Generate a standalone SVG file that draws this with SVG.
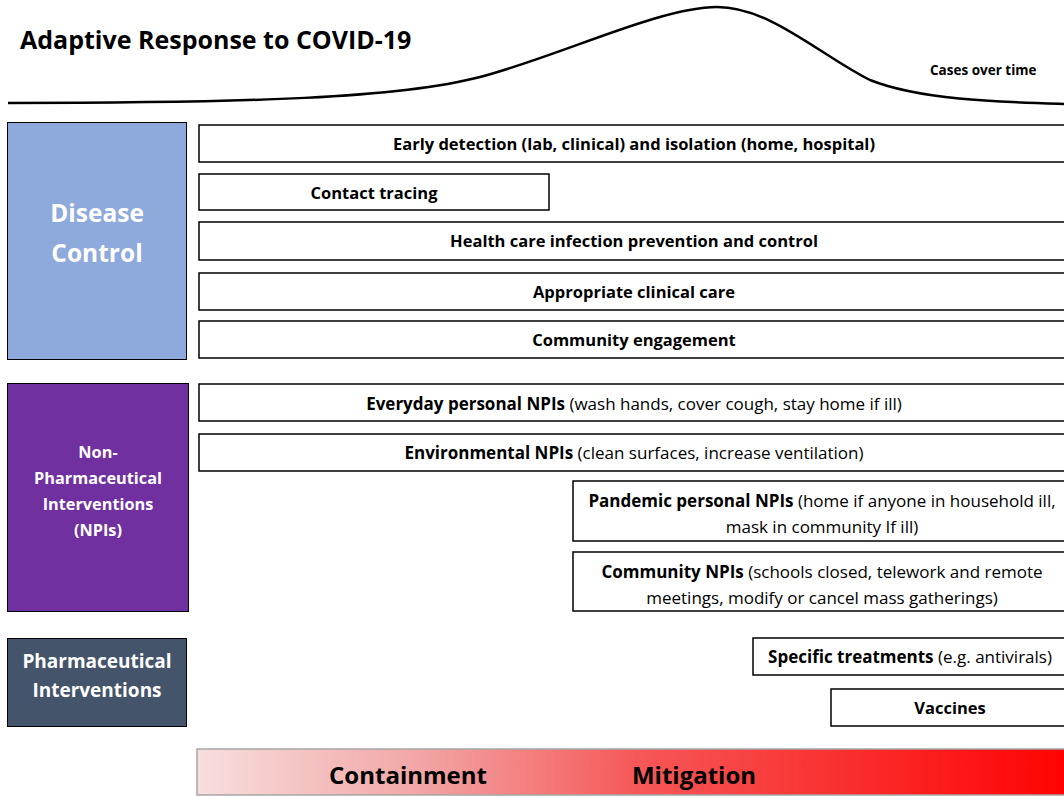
<svg xmlns="http://www.w3.org/2000/svg" width="1064" height="796" viewBox="0 0 1064 796">
<defs>
<style>
text{font-family:"Open Sans","Liberation Sans",sans-serif;}
.box{fill:#fff;stroke:#000;stroke-width:1.5;}
.t{font-size:16.5px;text-anchor:middle;fill:#000;}
.m{font-size:17px;}
.b{font-weight:bold;}
.w{fill:#fff;font-weight:bold;text-anchor:middle;}
</style>
<linearGradient id="grad" x1="0" y1="0" x2="1" y2="0">
<stop offset="0" stop-color="#F8DEDE"/>
<stop offset="0.25" stop-color="#F2A6A6"/>
<stop offset="0.5" stop-color="#F65858"/>
<stop offset="1" stop-color="#FF0000"/>
</linearGradient>
</defs>
<rect width="1064" height="796" fill="#fff"/>
<text x="20" y="49" font-size="25" font-weight="bold">Adaptive Response to COVID-19</text>
<g id="curve">
<path d="M8,103 C250,103 400,98 480,77 C560,56 660,7 717,7 C770,7 820,55 870,80 C920,100 1000,102 1064,104" fill="none" stroke="#000" stroke-width="2.5"/>
<text x="930" y="75" font-size="13.5" font-weight="bold">Cases over time</text>
</g>
<g id="disease-control">
<rect x="7.5" y="122.5" width="179" height="237" fill="#8EA9DB" stroke="#000" stroke-width="1"/>
<text class="w" x="97" y="222" font-size="24.5">Disease</text>
<text class="w" x="97" y="262" font-size="24.5">Control</text>
</g>
<g id="npis">
<rect x="7.5" y="383.5" width="181" height="228" fill="#7030A0" stroke="#000" stroke-width="1"/>
<text class="w" x="98" y="458" font-size="16.3">Non-</text>
<text class="w" x="98" y="484" font-size="16.3">Pharmaceutical</text>
<text class="w" x="98" y="510" font-size="16.3">Interventions</text>
<text class="w" x="98" y="536" font-size="16.3">(NPIs)</text>
</g>
<g id="pharma">
<rect x="7.5" y="638.5" width="179" height="88" fill="#44546A" stroke="#000" stroke-width="1"/>
<text class="w" x="97" y="668" font-size="19">Pharmaceutical</text>
<text class="w" x="97" y="697" font-size="19">Interventions</text>
</g>
<g id="early-detection">
<rect class="box" x="199" y="125" width="875" height="37"/>
<text class="t b" x="634" y="150">Early detection (lab, clinical) and isolation (home, hospital)</text>
</g>
<g id="contact-tracing">
<rect class="box" x="199" y="174" width="350" height="36"/>
<text class="t b" x="374" y="199">Contact tracing</text>
</g>
<g id="health-care">
<rect class="box" x="199" y="222" width="875" height="38"/>
<text class="t b" x="634" y="247">Health care infection prevention and control</text>
</g>
<g id="clinical-care">
<rect class="box" x="199" y="273" width="875" height="37"/>
<text class="t b" x="634" y="298">Appropriate clinical care</text>
</g>
<g id="community-engagement">
<rect class="box" x="199" y="321" width="875" height="37"/>
<text class="t b" x="634" y="346">Community engagement</text>
</g>
<g id="everyday-npis">
<rect class="box" x="199" y="384" width="875" height="37"/>
<text class="t m" x="634" y="410"><tspan class="b">Everyday personal NPIs</tspan> (wash hands, cover cough, stay home if ill)</text>
</g>
<g id="environmental-npis">
<rect class="box" x="199" y="434" width="875" height="37"/>
<text class="t m" x="634" y="459"><tspan class="b">Environmental NPIs</tspan> (clean surfaces, increase ventilation)</text>
</g>
<g id="pandemic-npis">
<rect class="box" x="573" y="481" width="501" height="60"/>
<text class="t m" x="822" y="507"><tspan class="b">Pandemic personal NPIs</tspan> (home if anyone in household ill,</text>
<text class="t m" x="822" y="533">mask in community If ill)</text>
</g>
<g id="community-npis">
<rect class="box" x="573" y="552" width="501" height="59"/>
<text class="t m" x="822" y="578"><tspan class="b">Community NPIs</tspan> (schools closed, telework and remote</text>
<text class="t m" x="822" y="604">meetings, modify or cancel mass gatherings)</text>
</g>
<g id="specific-treatments">
<rect class="box" x="753" y="638" width="321" height="37"/>
<text class="t m" x="910" y="663"><tspan class="b">Specific treatments</tspan> (e.g. antivirals)</text>
</g>
<g id="vaccines">
<rect class="box" x="831" y="689" width="243" height="37"/>
<text class="t b" x="950" y="714">Vaccines</text>
</g>
<g id="phase-bar">
<rect x="197" y="749" width="880" height="46" fill="url(#grad)" stroke="#A6A6A6" stroke-width="1.5"/>
<text x="408" y="784" font-size="24" font-weight="bold" text-anchor="middle">Containment</text>
<text x="694" y="784" font-size="24" font-weight="bold" text-anchor="middle">Mitigation</text>
</g>
</svg>
